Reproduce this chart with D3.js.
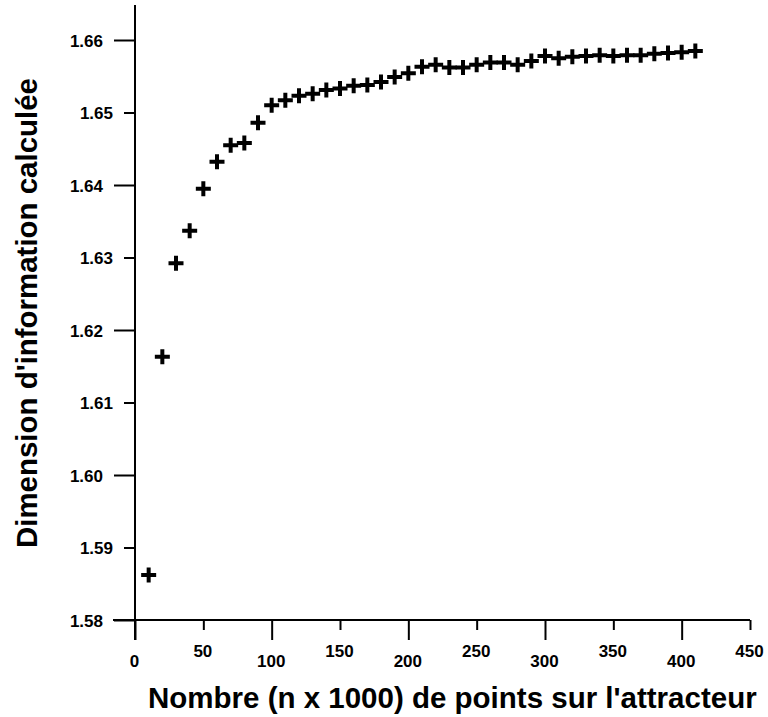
<!DOCTYPE html>
<html>
<head>
<meta charset="utf-8">
<script src="https://cdnjs.cloudflare.com/ajax/libs/d3/7.8.5/d3.min.js"></script>
<style>
  body { margin: 0; background: #fff; }
  svg { display: block; }
  text { font-family: "Liberation Sans", Arial, sans-serif; font-weight: bold; fill: #000; }
</style>
</head>
<body>
<div id="chart"></div>
<script>
// n (x 1000) points on the attractor
const nValues = [10, 20, 30, 40, 50, 60, 70, 80, 90, 100,
  110, 120, 130, 140, 150, 160, 170, 180, 190, 200,
  210, 220, 230, 240, 250, 260, 270, 280, 290, 300,
  310, 320, 330, 340, 350, 360, 370, 380, 390, 400, 410];

// computed information dimension
const dimValues = [1.5862, 1.6163, 1.6292, 1.6337, 1.6395, 1.6432, 1.6455, 1.6458, 1.6486, 1.6510,
  1.6517, 1.6523, 1.6526, 1.6531, 1.6533, 1.6537, 1.6538, 1.6542, 1.6549, 1.6554,
  1.6563, 1.6566, 1.6562, 1.6562, 1.6566, 1.6569, 1.6569, 1.6566, 1.6571, 1.6578,
  1.6575, 1.6577, 1.6578, 1.6579, 1.6578, 1.6579, 1.6579, 1.6581, 1.6582, 1.6583, 1.6585];

const xTicks = [0, 50, 100, 150, 200, 250, 300, 350, 400, 450];
const yTicks = [1.58, 1.59, 1.60, 1.61, 1.62, 1.63, 1.64, 1.65, 1.66];

const xTitle = "Nombre (n x 1000) de points sur l'attracteur";
const yTitle = "Dimension d'information calculée";

const width = 768, height = 717;

const svg = d3.select("#chart").append("svg")
  .attr("width", width)
  .attr("height", height);

const x = d3.scaleLinear().domain([0, 450]).range([135, 750]);
const y = d3.scaleLinear().domain([1.58, 1.66]).range([620, 40]);

// x axis: long ticks on even, short on odd
const xAxis = d3.axisBottom(x)
  .tickValues(xTicks)
  .tickFormat(d3.format("d"))
  .tickSize(20)
  .tickSizeOuter(0);

const gx = svg.append("g")
  .attr("transform", "translate(0," + y(1.58) + ")")
  .call(xAxis);
gx.select(".domain").remove();
gx.selectAll(".tick line")
  .attr("stroke", "#000")
  .attr("stroke-width", 2)
  .attr("y2", (d, i) => i % 2 ? 10 : 20);
gx.selectAll(".tick text")
  .attr("x", -1)
  .attr("y", (d, i) => i % 2 ? 31 : 41)
  .attr("dy", "0.35em")
  .style("font-size", "17px");

const yAxis = d3.axisLeft(y)
  .tickValues(yTicks)
  .tickFormat(d3.format(".2f"))
  .tickSize(21)
  .tickSizeOuter(0);

const gy = svg.append("g")
  .attr("transform", "translate(" + x(0) + ",0)")
  .call(yAxis);
gy.select(".domain").remove();
gy.selectAll(".tick line")
  .attr("stroke", "#000")
  .attr("stroke-width", 2)
  .attr("x2", (d, i) => i % 2 ? -11 : -21);
gy.selectAll(".tick text")
  .attr("x", (d, i) => i % 2 ? -22 : -32)
  .attr("dy", "0.36em")
  .style("font-size", "17px");

// axis lines
svg.append("line")
  .attr("x1", x(0) - 22).attr("x2", x(450))
  .attr("y1", y(1.58)).attr("y2", y(1.58))
  .attr("stroke", "#000").attr("stroke-width", 2);
svg.append("line")
  .attr("x1", x(0)).attr("x2", x(0))
  .attr("y1", y(1.66) - 35).attr("y2", y(1.58) + 20)
  .attr("stroke", "#000").attr("stroke-width", 2);

// points as bold plus signs
const pts = nValues.map((n, i) => ({n: n, v: dimValues[i]}));
const arm = 7.5;
svg.append("g").selectAll("path")
  .data(pts)
  .enter()
  .append("path")
  .attr("d", d => {
    const cx = x(d.n), cy = y(d.v);
    return "M" + (cx - arm) + "," + cy + "H" + (cx + arm) +
           "M" + cx + "," + (cy - arm) + "V" + (cy + arm);
  })
  .attr("stroke", "#000")
  .attr("stroke-width", 4)
  .attr("fill", "none");

// titles, sized to the span they cover in the original
const fitText = function(sel, span) {
  const w = sel.node().getComputedTextLength();
  sel.style("font-size", (26 * span / w) + "px");
};

const xt = svg.append("text")
  .attr("x", 148)
  .attr("y", 708)
  .style("font-size", "26px")
  .text(xTitle);
fitText(xt, 609);

const yt = svg.append("text")
  .attr("transform", "translate(37,548) rotate(-90)")
  .style("font-size", "26px")
  .text(yTitle);
fitText(yt, 470);
</script>
</body>
</html>
